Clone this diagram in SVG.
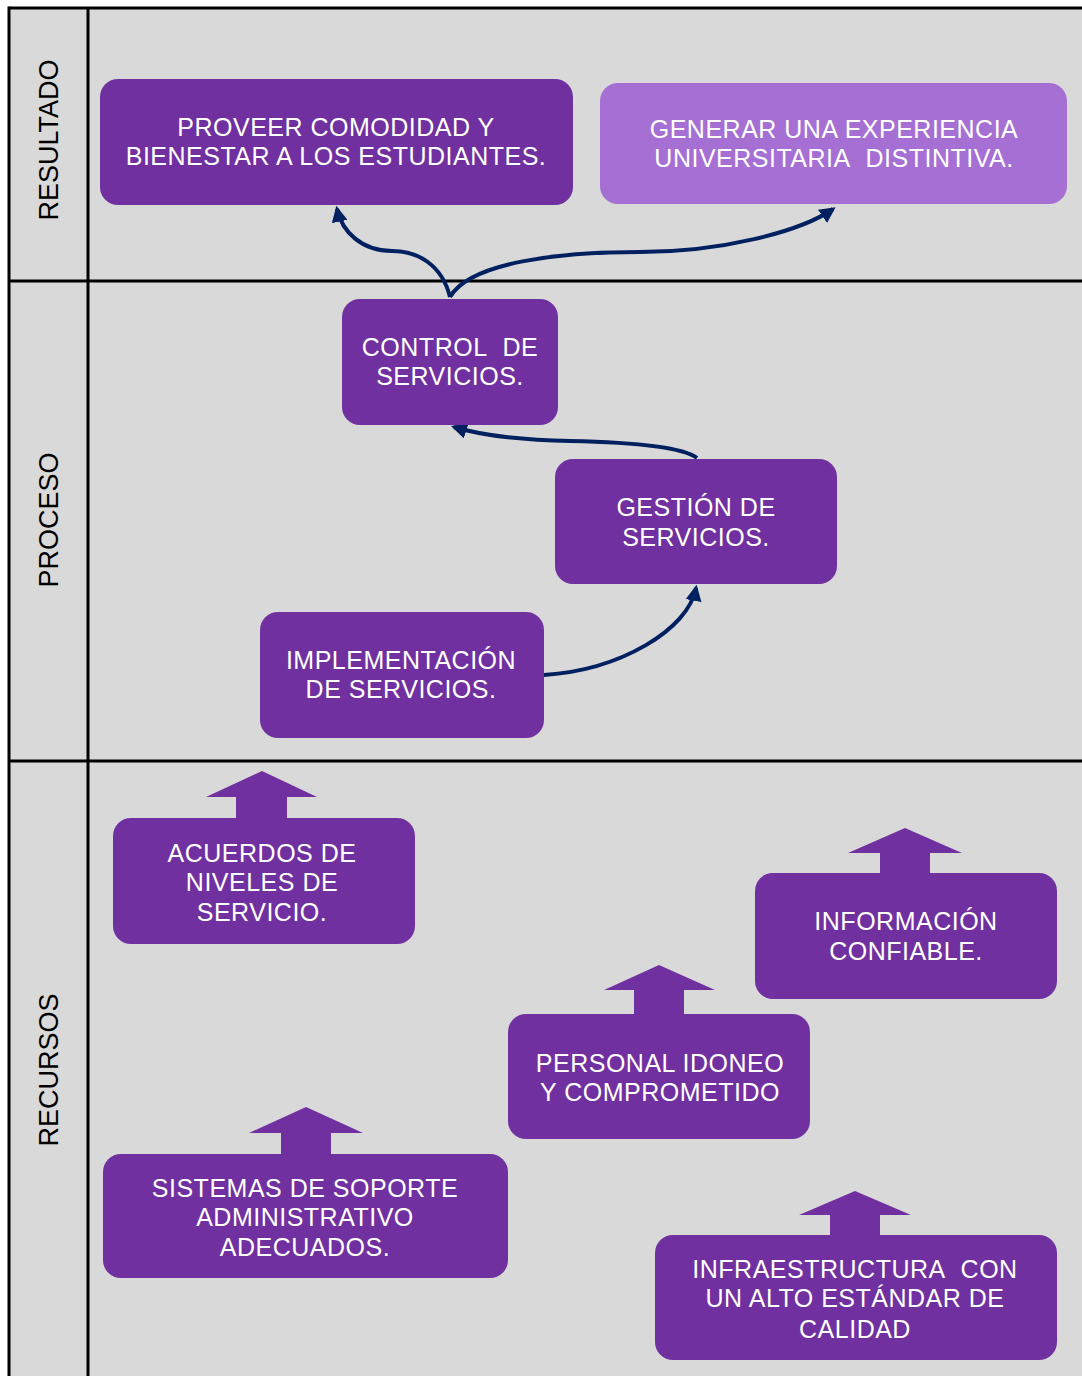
<svg xmlns="http://www.w3.org/2000/svg" width="1082" height="1376" viewBox="0 0 1082 1376">
<style>
.box{fill:#7030A0}
.light{fill:#A66FD4}
.t{font-family:"Liberation Sans",Arial,sans-serif;font-size:25px;letter-spacing:0.5px;fill:#FFFFFF;text-anchor:middle}
.lane{font-family:"Liberation Sans",Arial,sans-serif;font-size:27px;fill:#000000;text-anchor:middle}
.conn{fill:none;stroke:#002060;stroke-width:4}
.frame{stroke:#000000;stroke-width:3;fill:none}
</style>
<defs>
<marker id="ah" viewBox="0 0 10 10" refX="8" refY="5" markerWidth="4" markerHeight="4" orient="auto" markerUnits="strokeWidth">
<path d="M0,0 L10,5 L0,10 z" fill="#002060"/>
</marker>
</defs>
<rect x="0" y="0" width="1082" height="1376" fill="#FFFFFF"/>
<rect x="9" y="8" width="1080" height="1380" fill="#D9D9D9"/>
<g id="frame">
<line class="frame" x1="9" y1="8" x2="1082" y2="8"/>
<line class="frame" x1="9" y1="6.5" x2="9" y2="1376"/>
<line class="frame" x1="88" y1="8" x2="88" y2="1376"/>
<line class="frame" x1="9" y1="281" x2="1082" y2="281"/>
<line class="frame" x1="9" y1="761" x2="1082" y2="761"/>
</g>
<g id="lanes">
<text class="lane" transform="translate(58,140) rotate(-90)">RESULTADO</text>
<text class="lane" transform="translate(58,520) rotate(-90)">PROCESO</text>
<text class="lane" transform="translate(58,1070) rotate(-90)">RECURSOS</text>
</g>
<g id="connectors">
<path class="conn" marker-end="url(#ah)" d="M450,297 C442,265 418,251 392,251 C362,251 342,232 337,209"/>
<path class="conn" marker-end="url(#ah)" d="M450,297 C470,262 560,252 640,252 C720,252 800,232 833,209"/>
<path class="conn" marker-end="url(#ah)" d="M697,458 C680,445 620,442 570,441 C520,440 480,435 454,427"/>
<path class="conn" marker-end="url(#ah)" d="M544,675 C620,670 688,630 696,588"/>
</g>
<g id="n-proveer">
<rect class="box" x="100" y="79" width="473" height="126" rx="18"/>
<text class="t" x="336" y="136">PROVEER COMODIDAD Y</text>
<text class="t" x="336" y="165">BIENESTAR A LOS ESTUDIANTES.</text>
</g>
<g id="n-generar">
<rect class="light" x="600" y="83" width="467" height="121" rx="18"/>
<text class="t" x="834" y="138">GENERAR UNA EXPERIENCIA</text>
<text class="t" x="834" y="167">UNIVERSITARIA&#160; DISTINTIVA.</text>
</g>
<g id="n-control">
<rect class="box" x="342" y="299" width="216" height="126" rx="18"/>
<text class="t" x="450" y="356">CONTROL&#160; DE</text>
<text class="t" x="450" y="385">SERVICIOS.</text>
</g>
<g id="n-gestion">
<rect class="box" x="555" y="459" width="282" height="125" rx="18"/>
<text class="t" x="696" y="516">GESTIÓN DE</text>
<text class="t" x="696" y="546">SERVICIOS.</text>
</g>
<g id="n-implementacion">
<rect class="box" x="260" y="612" width="284" height="126" rx="18"/>
<text class="t" x="401" y="669">IMPLEMENTACIÓN</text>
<text class="t" x="401" y="698">DE SERVICIOS.</text>
</g>
<g id="n-acuerdos">
<path class="box" d="M262,771 L317,797 L287,797 L287,820 L236,820 L236,797 L206,797 Z"/>
<rect class="box" x="113" y="818" width="302" height="126" rx="18"/>
<text class="t" x="262" y="862">ACUERDOS DE</text>
<text class="t" x="262" y="891">NIVELES DE</text>
<text class="t" x="262" y="921">SERVICIO.</text>
</g>
<g id="n-informacion">
<path class="box" d="M905,828 L962,853 L930,853 L930,875 L880,875 L880,853 L848,853 Z"/>
<rect class="box" x="755" y="873" width="302" height="126" rx="18"/>
<text class="t" x="906" y="930">INFORMACIÓN</text>
<text class="t" x="906" y="960">CONFIABLE.</text>
</g>
<g id="n-personal">
<path class="box" d="M659,965 L715,990 L684,990 L684,1016 L634,1016 L634,990 L604,990 Z"/>
<rect class="box" x="508" y="1014" width="302" height="125" rx="18"/>
<text class="t" x="660" y="1072">PERSONAL IDONEO</text>
<text class="t" x="660" y="1101">Y COMPROMETIDO</text>
</g>
<g id="n-sistemas">
<path class="box" d="M306,1107 L363,1133 L331,1133 L331,1156 L281,1156 L281,1133 L249,1133 Z"/>
<rect class="box" x="103" y="1154" width="405" height="124" rx="18"/>
<text class="t" x="305" y="1197">SISTEMAS DE SOPORTE</text>
<text class="t" x="305" y="1226">ADMINISTRATIVO</text>
<text class="t" x="305" y="1256">ADECUADOS.</text>
</g>
<g id="n-infraestructura">
<path class="box" d="M855,1191 L911,1215 L880,1215 L880,1237 L830,1237 L830,1215 L799,1215 Z"/>
<rect class="box" x="655" y="1235" width="402" height="125" rx="18"/>
<text class="t" x="855" y="1278">INFRAESTRUCTURA&#160; CON</text>
<text class="t" x="855" y="1307">UN ALTO ESTÁNDAR DE</text>
<text class="t" x="855" y="1338">CALIDAD</text>
</g>
</svg>
